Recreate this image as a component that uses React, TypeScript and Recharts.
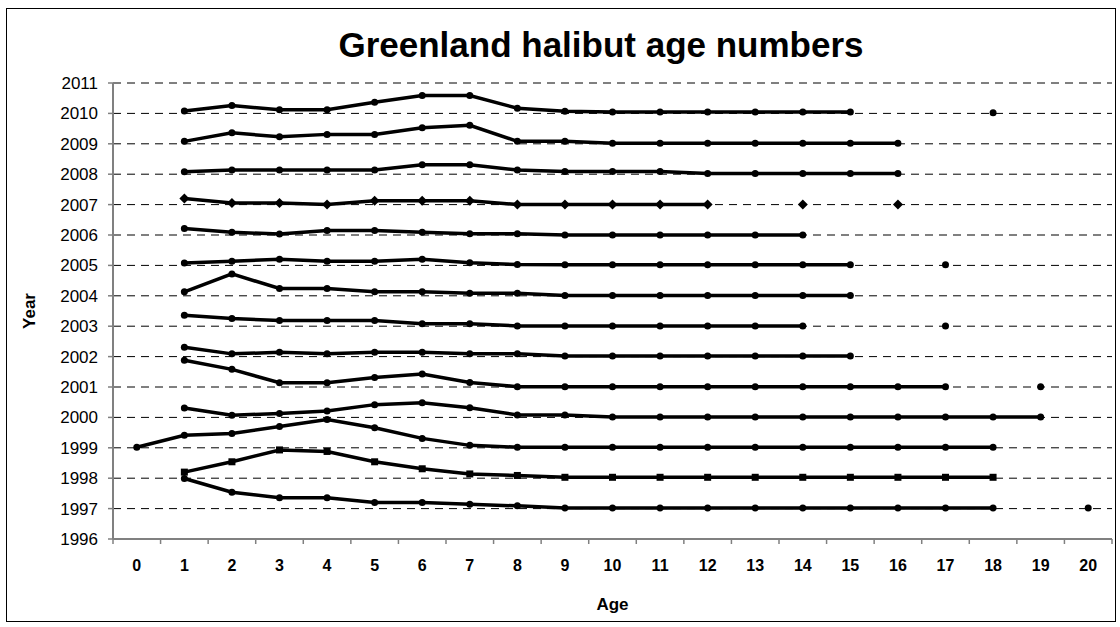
import { LineChart, Line, XAxis, YAxis, CartesianGrid } from 'recharts';

// ages on the x axis (one category each)
const AGES = [0, 1, 2, 3, 4, 5, 6, 7, 8, 9, 10, 11, 12, 13, 14, 15, 16, 17, 18, 19, 20];
const YEAR_TICKS = [1996, 1997, 1998, 1999, 2000, 2001, 2002, 2003, 2004, 2005, 2006, 2007, 2008, 2009, 2010, 2011];

// one array per survey year, index = age, null = no data
const y1997 = [null, 1997.99, 1997.54, 1997.36, 1997.36, 1997.2, 1997.2, 1997.14, 1997.09, 1997.02, 1997.02, 1997.02, 1997.02, 1997.02, 1997.02, 1997.02, 1997.02, 1997.02, 1997.02, null, 1997.02];
const y1998 = [null, 1998.2, 1998.54, 1998.93, 1998.88, 1998.54, 1998.31, 1998.14, 1998.09, 1998.03, 1998.03, 1998.03, 1998.03, 1998.03, 1998.03, 1998.03, 1998.03, 1998.03, 1998.03, null, null];
const y1999 = [1999.02, 1999.41, 1999.47, 1999.7, 1999.93, 1999.66, 1999.31, 1999.08, 1999.02, 1999.02, 1999.02, 1999.02, 1999.02, 1999.02, 1999.02, 1999.02, 1999.02, 1999.02, 1999.02, null, null];
const y2000 = [null, 2000.31, 2000.07, 2000.13, 2000.21, 2000.42, 2000.48, 2000.32, 2000.08, 2000.08, 2000.01, 2000.01, 2000.01, 2000.01, 2000.01, 2000.01, 2000.01, 2000.01, 2000.01, 2000.01, null];
const y2001 = [null, 2001.88, 2001.58, 2001.14, 2001.14, 2001.31, 2001.43, 2001.15, 2001.01, 2001.01, 2001.01, 2001.01, 2001.01, 2001.01, 2001.01, 2001.01, 2001.01, 2001.01, null, 2001.01, null];
const y2002 = [null, 2002.31, 2002.09, 2002.14, 2002.09, 2002.14, 2002.14, 2002.09, 2002.09, 2002.02, 2002.02, 2002.02, 2002.02, 2002.02, 2002.02, 2002.02, null, null, null, null, null];
const y2003 = [null, 2003.36, 2003.25, 2003.19, 2003.19, 2003.19, 2003.08, 2003.08, 2003.01, 2003.01, 2003.01, 2003.01, 2003.01, 2003.01, 2003.01, null, null, 2003.01, null, null, null];
const y2004 = [null, 2004.13, 2004.72, 2004.24, 2004.24, 2004.13, 2004.13, 2004.08, 2004.08, 2004.01, 2004.01, 2004.01, 2004.01, 2004.01, 2004.01, 2004.01, null, null, null, null, null];
const y2005 = [null, 2005.08, 2005.14, 2005.2, 2005.14, 2005.14, 2005.2, 2005.09, 2005.03, 2005.02, 2005.02, 2005.02, 2005.02, 2005.02, 2005.02, 2005.02, null, 2005.02, null, null, null];
const y2006 = [null, 2006.21, 2006.09, 2006.03, 2006.15, 2006.15, 2006.09, 2006.04, 2006.04, 2006.0, 2006.0, 2006.0, 2006.0, 2006.0, 2006.0, null, null, null, null, null, null];
const y2007 = [null, 2007.2, 2007.05, 2007.05, 2007.0, 2007.13, 2007.13, 2007.13, 2007.0, 2007.0, 2007.0, 2007.0, 2007.0, null, 2007.0, null, 2007.0, null, null, null, null];
const y2008 = [null, 2008.08, 2008.14, 2008.14, 2008.14, 2008.14, 2008.31, 2008.31, 2008.14, 2008.09, 2008.09, 2008.09, 2008.02, 2008.02, 2008.02, 2008.02, 2008.02, null, null, null, null];
const y2009 = [null, 2009.08, 2009.36, 2009.23, 2009.31, 2009.31, 2009.53, 2009.61, 2009.08, 2009.08, 2009.02, 2009.02, 2009.02, 2009.02, 2009.02, 2009.02, 2009.02, null, null, null, null];
const y2010 = [null, 2010.08, 2010.26, 2010.12, 2010.12, 2010.37, 2010.59, 2010.59, 2010.17, 2010.07, 2010.05, 2010.05, 2010.05, 2010.05, 2010.05, 2010.05, null, null, 2010.02, null, null];

const SERIES = [
  { key: 'y1997', values: y1997, marker: 'circle' },
  { key: 'y1998', values: y1998, marker: 'square' },
  { key: 'y1999', values: y1999, marker: 'circle' },
  { key: 'y2000', values: y2000, marker: 'circle' },
  { key: 'y2001', values: y2001, marker: 'circle' },
  { key: 'y2002', values: y2002, marker: 'circle' },
  { key: 'y2003', values: y2003, marker: 'circle' },
  { key: 'y2004', values: y2004, marker: 'circle' },
  { key: 'y2005', values: y2005, marker: 'circle' },
  { key: 'y2006', values: y2006, marker: 'circle' },
  { key: 'y2007', values: y2007, marker: 'diamond' },
  { key: 'y2008', values: y2008, marker: 'circle' },
  { key: 'y2009', values: y2009, marker: 'circle' },
  { key: 'y2010', values: y2010, marker: 'circle' },
];

const data = AGES.map((age, i) => {
  const row: Record<string, number | null> = { age };
  SERIES.forEach((s) => {
    row[s.key] = s.values[i];
  });
  return row;
});

// tick marks sit between the age labels, like a category axis
const EDGES = [...AGES.map((a) => a - 0.5), AGES[AGES.length - 1] + 0.5];

const W = 1120;
const H = 627;
const PLOT_LEFT = 113;
const PLOT_RIGHT = 1112;
const PLOT_TOP = 83;
const PLOT_BOTTOM = 539;
const BAND = (PLOT_RIGHT - PLOT_LEFT) / AGES.length;
const FONT = '"Liberation Sans", Arial, sans-serif';

const makeDot = (marker: string, key: string) => (props: any) => {
  const { cx, cy, index } = props;
  const k = `${key}-${index}`;
  if (cx == null || cy == null || isNaN(cx) || isNaN(cy)) return <g key={k} />;
  if (marker === 'square') {
    return <rect key={k} x={cx - 3.5} y={cy - 3.5} width={7} height={7} fill="#000" />;
  }
  if (marker === 'diamond') {
    return (
      <path
        key={k}
        d={`M${cx},${cy - 5} L${cx + 5},${cy} L${cx},${cy + 5} L${cx - 5},${cy} Z`}
        fill="#000"
      />
    );
  }
  return <circle key={k} cx={cx} cy={cy} r={3.5} fill="#000" />;
};

const AgeTick = (props: any) => {
  const { x, y, payload } = props;
  const age = payload.value + 0.5;
  if (age > AGES[AGES.length - 1]) return <g />;
  return (
    <text
      x={x + BAND / 2}
      y={y}
      dy="0.71em"
      textAnchor="middle"
      fill="#000"
      fontSize={16}
      fontWeight="bold"
      fontFamily={FONT}
    >
      {age}
    </text>
  );
};

export default function App() {
  return (
    <div
      style={{
        position: 'absolute',
        left: 0,
        top: 0,
        width: W,
        height: H,
        background: '#fff',
        fontFamily: FONT,
      }}
    >
      <div
        style={{
          position: 'absolute',
          left: 6,
          top: 8,
          width: 1108,
          height: 612,
          border: '1px solid #000',
        }}
      />
      <div
        style={{
          position: 'absolute',
          left: 601,
          top: 45,
          fontSize: 35,
          fontWeight: 'bold',
          whiteSpace: 'nowrap',
          transform: 'translate(-50%, -50%)',
        }}
      >
        Greenland halibut age numbers
      </div>
      <div
        style={{
          position: 'absolute',
          left: 30,
          top: 311,
          fontSize: 17,
          fontWeight: 'bold',
          transform: 'translate(-50%, -50%) rotate(-90deg)',
        }}
      >
        Year
      </div>
      <div
        style={{
          position: 'absolute',
          left: (PLOT_LEFT + PLOT_RIGHT) / 2,
          top: 605,
          fontSize: 17,
          fontWeight: 'bold',
          transform: 'translate(-50%, -50%)',
        }}
      >
        Age
      </div>
      <div style={{ position: 'absolute', left: 0, top: 0 }}>
        <LineChart
          width={W}
          height={H}
          data={data}
          margin={{ top: PLOT_TOP, right: W - PLOT_RIGHT, bottom: 0, left: 0 }}
        >
          <CartesianGrid vertical={false} stroke="#000" strokeDasharray="8 6" />
          <XAxis
            dataKey="age"
            type="number"
            domain={[EDGES[0], EDGES[EDGES.length - 1]]}
            ticks={EDGES}
            interval={0}
            height={H - PLOT_BOTTOM}
            axisLine={{ stroke: '#808080', strokeWidth: 2 }}
            tickLine={{ stroke: '#808080', strokeWidth: 1.5 }}
            tickSize={5}
            tickMargin={16}
            tick={<AgeTick />}
          />
          <YAxis
            type="number"
            domain={[1996, 2011]}
            ticks={YEAR_TICKS}
            interval={0}
            width={PLOT_LEFT}
            axisLine={{ stroke: '#808080', strokeWidth: 2 }}
            tickLine={{ stroke: '#808080', strokeWidth: 1.5 }}
            tickSize={5}
            tickMargin={10}
            tick={{ fill: '#000', fontSize: 17, fontFamily: FONT }}
          />
          {SERIES.map((s) => (
            <Line
              key={s.key}
              dataKey={s.key}
              type="linear"
              stroke="#000"
              strokeWidth={3.5}
              dot={makeDot(s.marker, s.key)}
              activeDot={false}
              isAnimationActive={false}
            />
          ))}
        </LineChart>
      </div>
    </div>
  );
}
